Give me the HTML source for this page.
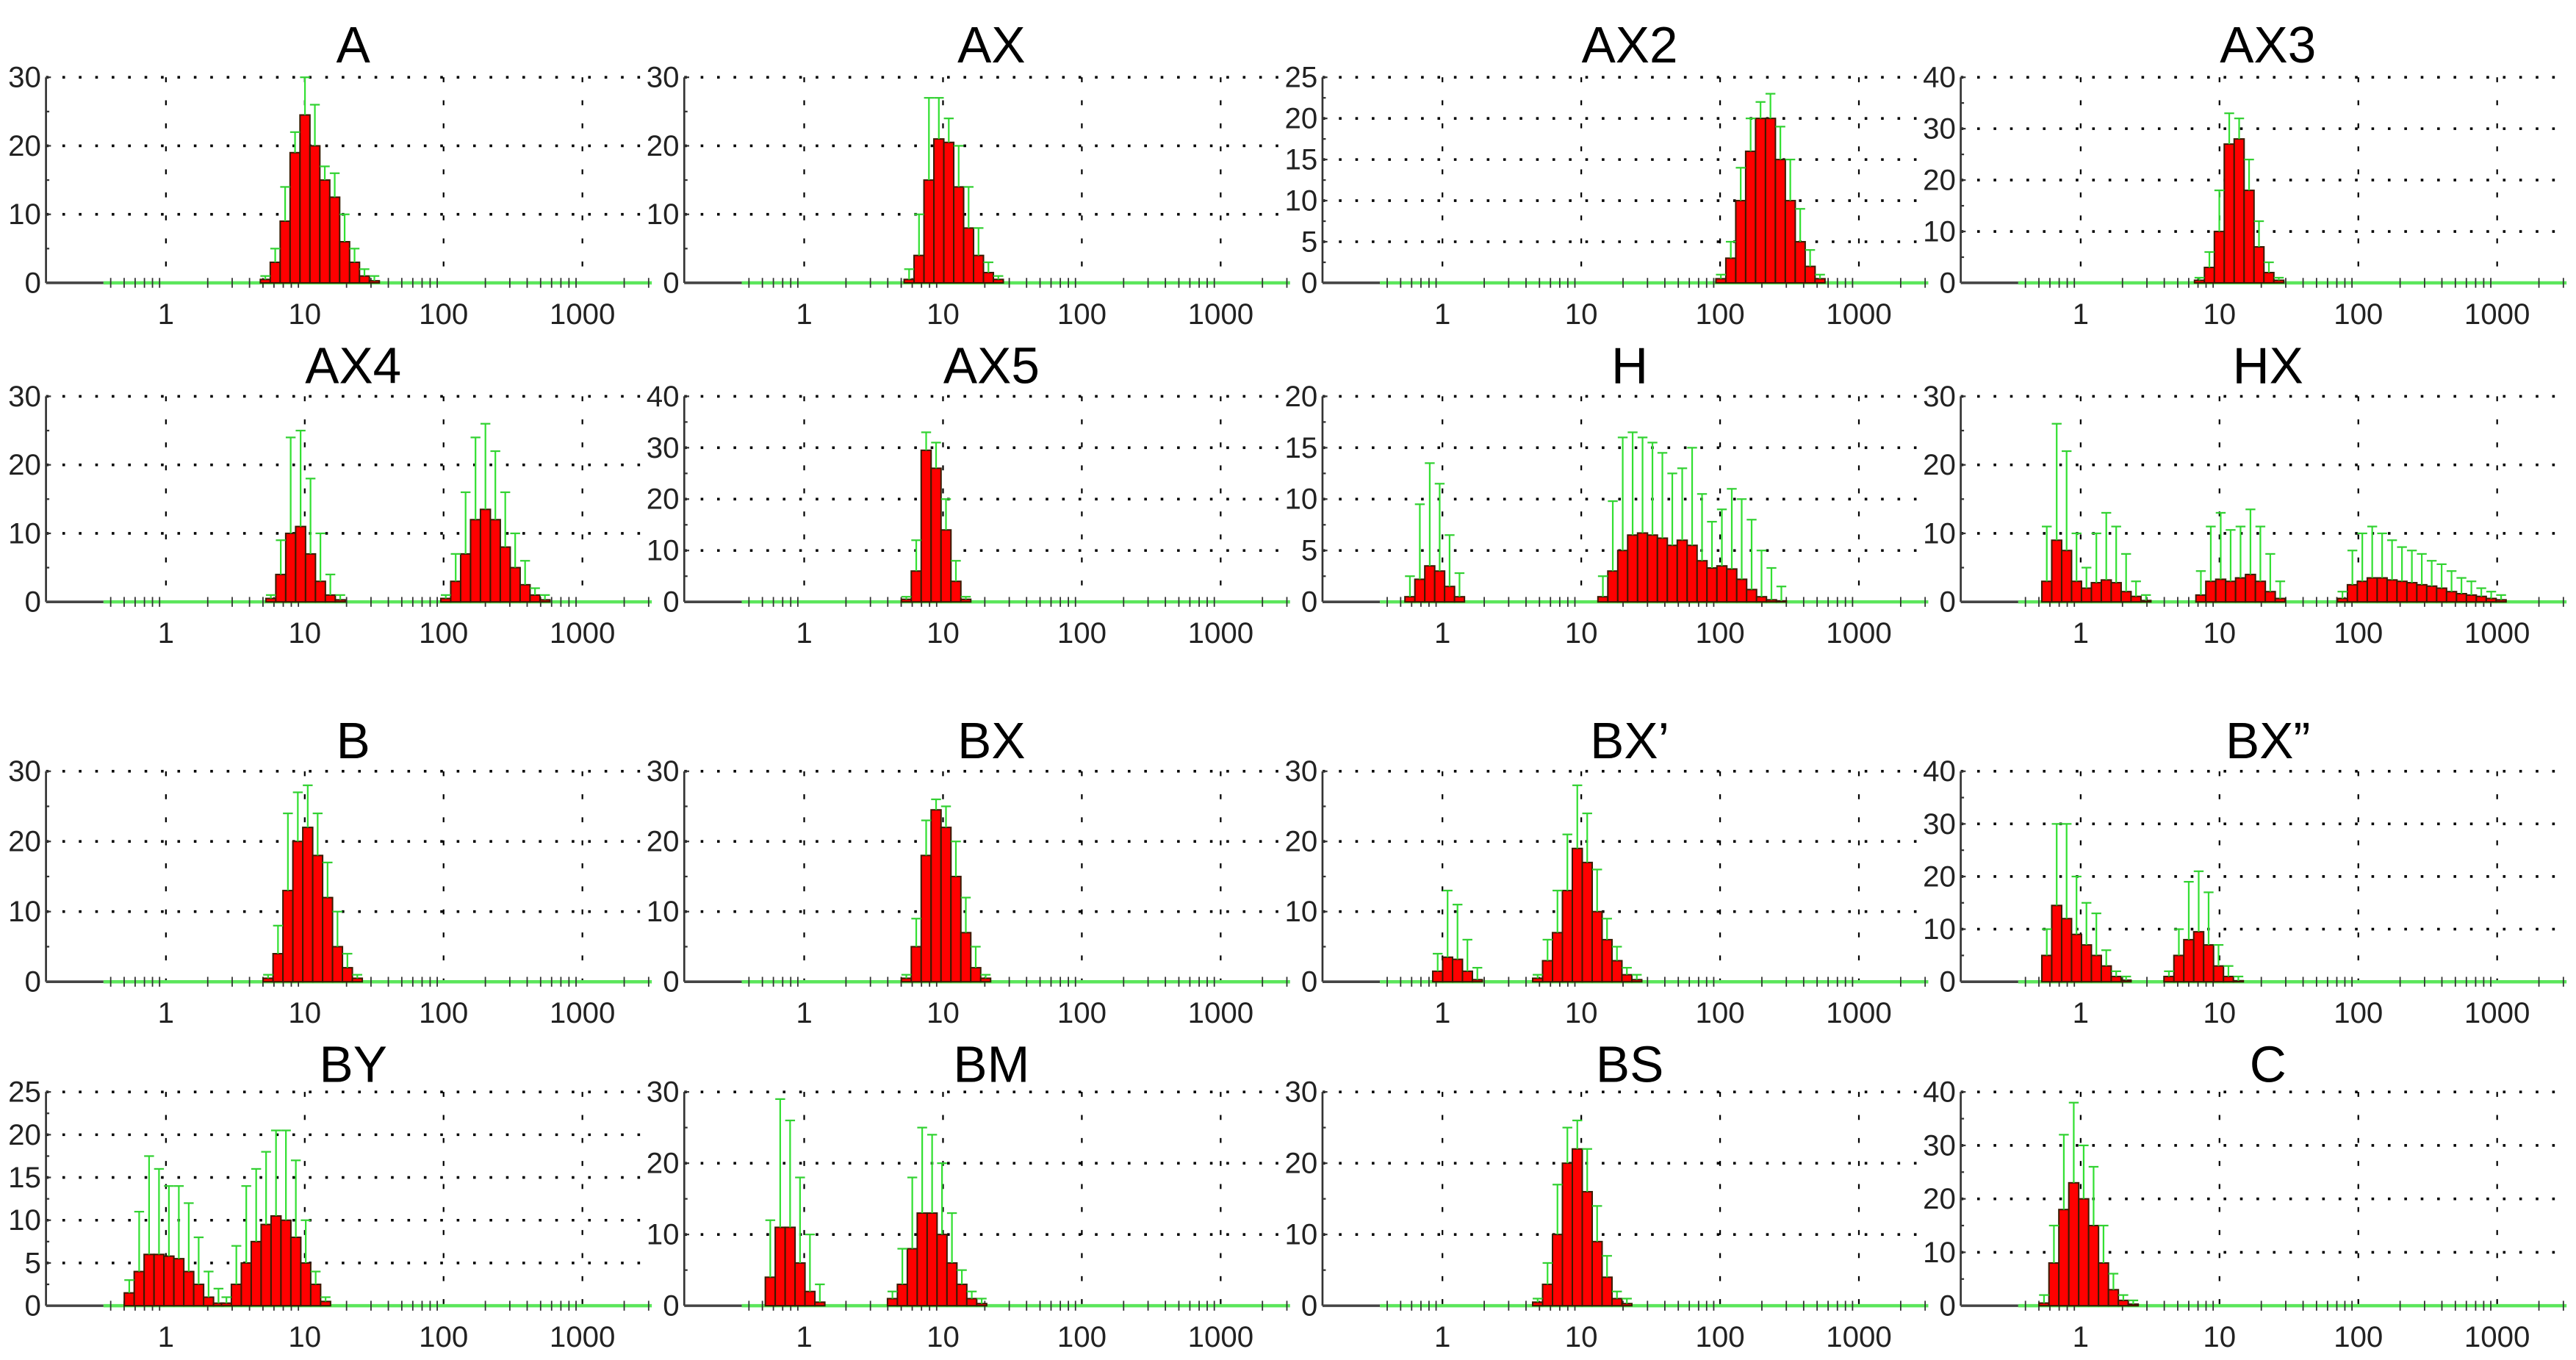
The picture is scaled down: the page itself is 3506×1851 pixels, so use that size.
<!DOCTYPE html>
<html><head><meta charset="utf-8">
<style>html,body{margin:0;padding:0;background:#fff;}svg{display:block;}</style>
</head><body>
<svg id="chart" width="3506" height="1851" viewBox="0 0 1568 827" preserveAspectRatio="none" xmlns="http://www.w3.org/2000/svg" font-family="Liberation Sans, sans-serif"></svg>
<script>
// ---- data (log10 start of first bin, values, error tops) ----
const titles = ["A","AX","AX2","AX3","AX4","AX5","H","HX","B","BX","BX\u2019","BX\u201D","BY","BM","BS","C"];
const yMaxes = [30,30,25,40,30,40,20,30,30,30,30,40,25,30,30,40];
const xTickLabels = ["1","10","100","1000"];

const aStart=0.68, aValues=[0.5,3,9,19,24.5,20,15,12.5,6,3,1,0.3], aErrors=[1,5,14,22,30,26,17,16,10,5,2,1];
const axStart=0.72, axValues=[0.5,4,15,21,20.5,14,8,4,1.5,0.5], axErrors=[2,10,27,27,24,20,14,8,3,1];
const ax2Start=1.97, ax2Values=[0.5,3,10,16,20,20,15,10,5,2,0.5], ax2Errors=[1,5,14,20,22,23,19,15,9,4,1];
const ax3Start=0.82, ax3Values=[0.5,3,10,27,28,18,7,2,0.5], ax3Errors=[1,6,18,33,32,24,12,4,1];
const ax4Start1=0.72, ax4Values1=[0.5,4,10,11,7,3,1,0.3], ax4Errors1=[1,9,24,25,18,10,4,1];
const ax4Start2=1.98, ax4Values2=[0.5,3,7,12,13.5,12,8,5,2.5,1,0.3], ax4Errors2=[1,7,16,24,26,22,16,10,6,2,1];
const ax5Start=0.7, ax5Values=[0.5,6,29.5,26,14,4,0.5], ax5Errors=[1,12,33,31,20,8,1];
const hStart1=-0.27, hValues1=[0.5,2.2,3.5,3,1.5,0.5], hErrors1=[2.5,9.5,13.5,11.5,6.5,2.8];
const hStart2=1.12, hValues2=[0.5,3,5,6.5,6.7,6.5,6.2,5.5,6,5.5,4,3.3,3.5,3.2,2.2,1.2,0.5,0.2,0.1], hErrors2=[2.5,9.8,16,16.5,16,15.5,14.5,12.5,13,15,10.5,7.8,9,11,10,8,5,3.3,1.5];
const hxStart1=-0.28, hxValues1=[3,9,7.5,3,2,2.8,3.2,2.8,1.5,0.8,0.2], hxErrors1=[11,26,22,10,5,10,13,11,7,3,1];
const hxStart2=0.83, hxValues2=[1,3,3.3,3,3.5,4,3,1.5,0.5], hxErrors2=[4.5,11,13,10.5,11,13.5,11,7,3];
const hxStart3=1.85, hxValues3=[0.5,2.5,3,3.5,3.5,3.2,3,2.8,2.5,2.3,2,1.5,1.2,1,0.8,0.5,0.3], hxErrors3=[1.5,7.5,10,11,10,9,8,7.5,7,6,5.5,4.5,3.5,3,2,1.5,1];
const bStart=0.7, bValues=[0.5,4,13,20,22,18,12,5,2,0.5], bErrors=[1,8,24,27,28,24,17,10,4,1];
const bxStart=0.7, bxValues=[0.5,5,18,24.5,22,15,7,2,0.5], bxErrors=[1,9,23,26,25,20,12,5,1];
const bx1Start1=-0.07, bx1Values1=[1.5,3.5,3.2,1.5,0.3], bx1Errors1=[4,13,11,6,2];
const bx1Start2=0.65, bx1Values2=[0.5,3,7,13,19,17,10,6,3,1,0.3], bx1Errors2=[1,6,13,21,28,24,16,9,5,2,1];
const bx2Start1=-0.28, bx2Values1=[5,14.5,12,9,7,5,3,1,0.3], bx2Errors1=[10,30,30,20,15,13,6,2,1];
const bx2Start2=0.6, bx2Values2=[1,5,8,9.5,7,3,1,0.2], bx2Errors2=[2,10,19,21,17,7,3,1];
const byStart1=-0.3, byValues1=[1.5,4,6,6,5.8,5.5,4,2.5,1,0.3], byErrors1=[3,11,17.5,16,14,14,12,8,4,2];
const byStart2=0.4, byValues2=[0.3,2.5,5,7.5,9.5,10.5,10,8,5,2.5,0.5], byErrors2=[1,7,14,16,18,20.5,20.5,17,10,4,1];
const bmStart1=-0.28, bmValues1=[4,11,11,6,2,0.5], bmErrors1=[12,29,26,18,10,3];
const bmStart2=0.6, bmValues2=[1,3,8,13,13,10,6,3,1,0.3], bmErrors2=[2,8,18,25,24,20,13,5,2,1];
const bsStart=0.65, bsValues=[0.5,3,10,20,22,16,9,4,1,0.3], bsErrors=[1,6,17,25,26,22,14,7,2,1];
const cStart=-0.3, cValues=[0.5,8,18,23,20,15,8,3,1,0.3], cErrors=[2,15,32,38,30,26,15,6,2,1];

const panelSeries = [
 [[aStart,aValues,aErrors]],
 [[axStart,axValues,axErrors]],
 [[ax2Start,ax2Values,ax2Errors]],
 [[ax3Start,ax3Values,ax3Errors]],
 [[ax4Start1,ax4Values1,ax4Errors1],[ax4Start2,ax4Values2,ax4Errors2]],
 [[ax5Start,ax5Values,ax5Errors]],
 [[hStart1,hValues1,hErrors1],[hStart2,hValues2,hErrors2]],
 [[hxStart1,hxValues1,hxErrors1],[hxStart2,hxValues2,hxErrors2],[hxStart3,hxValues3,hxErrors3]],
 [[bStart,bValues,bErrors]],
 [[bxStart,bxValues,bxErrors]],
 [[bx1Start1,bx1Values1,bx1Errors1],[bx1Start2,bx1Values2,bx1Errors2]],
 [[bx2Start1,bx2Values1,bx2Errors1],[bx2Start2,bx2Values2,bx2Errors2]],
 [[byStart1,byValues1,byErrors1],[byStart2,byValues2,byErrors2]],
 [[bmStart1,bmValues1,bmErrors1],[bmStart2,bmValues2,bmErrors2]],
 [[bsStart,bsValues,bsErrors]],
 [[cStart,cValues,cErrors]]
];

// ---- layout ----
const svg=document.getElementById('chart');
const NS='http://www.w3.org/2000/svg';
const BIN=1/14, DEC=84.5, LOGMIN=-0.864, LOGMAX=3.5;
const rowTop=[47,241,469,664], rowZero=[172,366,597,794], titleY=[38,233,461,658];
function mk(tag,attrs,parent){const e=document.createElementNS(NS,tag);for(const k in attrs)e.setAttribute(k,attrs[k]);(parent||svg).appendChild(e);return e;}

panelSeries.forEach((series,p)=>{
  const row=Math.floor(p/4), col=p%4;
  const ax=28+388.5*col, top=rowTop[row], zero=rowZero[row], ymax=yMaxes[p];
  const xs=l=>ax+(l-LOGMIN)*DEC;
  const ys=v=>zero-(v/ymax)*(zero-top);
  const xEnd=xs(LOGMAX);
  const g=mk('g',{});
  
  
  const t=mk('text',{x:ax+187,y:titleY[row],'font-size':31,'text-anchor':'middle',fill:'#000'},g);
  t.textContent=titles[p];
  
  
  const step=ymax<=25?5:10;
  for(let v=0;v<=ymax;v+=step){
    const y=ys(v);
    if(v>0){const gl=mk('line',{x1:ax,x2:xEnd,y1:y,y2:y,stroke:'#000','stroke-width':1.6,'stroke-dasharray':'1.6 8.4'},g);
      }
    const tl=mk('text',{x:ax-3,y:y+6,'font-size':18,'text-anchor':'end',fill:'#222'},g);
    tl.textContent=String(v);
    
    mk('line',{x1:ax,x2:ax+3,y1:y,y2:y,stroke:'#333','stroke-width':1},g);
    if(v+step/2<=ymax){const ym=ys(v+step/2);mk('line',{x1:ax,x2:ax+2,y1:ym,y2:ym,stroke:'#333','stroke-width':1},g);}
  }
  xTickLabels.forEach((lab,i)=>{
    const x=xs(i);
    const vl=mk('line',{x1:x,x2:x,y1:top,y2:zero,stroke:'#000','stroke-width':1,'stroke-dasharray':'3 11'},g);
    
    const tl=mk('text',{x:x,y:zero+25,'font-size':18,'text-anchor':'middle',fill:'#222'},g);
    tl.textContent=lab;
    
  });
  // axes
  const ya=mk('line',{x1:ax,x2:ax,y1:top,y2:zero,stroke:'#333','stroke-width':1.2},g);
  
  mk('line',{x1:ax,x2:ax+35,y1:zero,y2:zero,stroke:'#444','stroke-width':1.6},g);
  const xa=mk('line',{x1:ax+35,x2:xEnd,y1:zero,y2:zero,stroke:'#5be65b','stroke-width':2},g);
  
  for(let d=-1;d<4;d++)for(let m=2;m<=9;m++){const l=d+Math.log10(m);if(l>LOGMIN+0.4&&l<LOGMAX){const x=xs(l);mk('line',{x1:x,x2:x,y1:zero-3,y2:zero+3,stroke:'#333','stroke-width':0.8},g);}}
  // bars
  series.forEach(([start,vals,errs],si)=>{
    vals.forEach((v,i)=>{
      const l0=start+i*BIN, x0=xs(l0), x1=xs(l0+BIN);
      const b=mk('rect',{x:x0,y:ys(v),width:x1-x0,height:zero-ys(v),fill:'#ff0000',stroke:'#3a1a00','stroke-width':0.9},g);
      
      
    });
    errs.forEach((e,i)=>{
      const xc=xs(start+(i+0.5)*BIN), ye=ys(e), yv=ys(vals[i]);
      const el=mk('line',{x1:xc,x2:xc,y1:yv,y2:ye,stroke:'#33e033','stroke-width':1},g);
      
      
      mk('line',{x1:xc-3,x2:xc+3,y1:ye,y2:ye,stroke:'#33d033','stroke-width':1},g);
    });
  });
});
</script>
</body></html>
